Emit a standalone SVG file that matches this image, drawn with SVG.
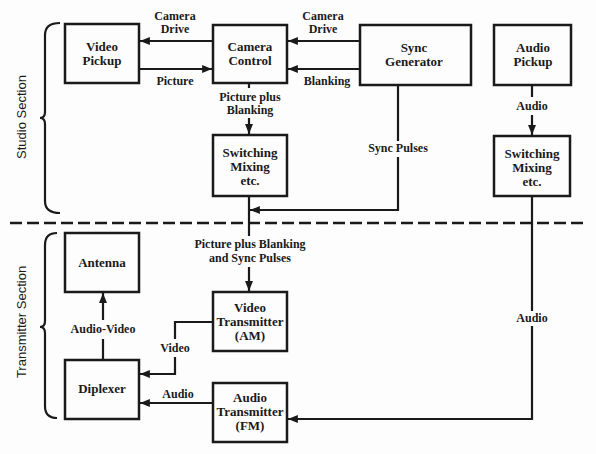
<svg xmlns="http://www.w3.org/2000/svg" width="596" height="454" viewBox="0 0 596 454">
<style>
.box{fill:none;stroke:#1a1a1a;stroke-width:2.5}
.nt{font-family:"Liberation Serif",serif;font-weight:bold;font-size:13px;fill:#1a1a1a;text-anchor:middle}
.lb{font-family:"Liberation Serif",serif;font-weight:bold;font-size:12px;fill:#1a1a1a;text-anchor:middle}
.sec{font-family:"Liberation Sans",sans-serif;font-size:13px;fill:#1a1a1a;text-anchor:middle}
.ln{fill:none;stroke:#1a1a1a;stroke-width:2.2}
.br{fill:none;stroke:#1a1a1a;stroke-width:2.2}
</style>
<defs>
<marker id="ah" viewBox="0 0 10 8" refX="10" refY="4" markerWidth="4.5" markerHeight="3.6" orient="auto" markerUnits="strokeWidth">
<path d="M0,0 L10,4 L0,8 Z" fill="#1a1a1a"/>
</marker>
</defs>
<rect width="596" height="454" fill="#fdfdfd"/>

<g id="sections">
<path class="br" d="M60,23 Q45,23 45,35 L45,112 Q45,118 40,118 Q45,118 45,124 L45,201 Q45,213 60,213"/>
<text class="sec" transform="translate(26,117) rotate(-90)">Studio Section</text>
<path class="br" d="M57,233 Q45,233 45,245 L45,321 Q45,327 40,327 Q45,327 45,333 L45,406 Q45,418 57,418"/>
<text class="sec" transform="translate(26,322) rotate(-90)">Transmitter Section</text>
<line x1="10" y1="223" x2="584" y2="223" stroke="#1a1a1a" stroke-width="2.6" stroke-dasharray="12 5"/>
</g>

<g id="video-pickup">
<rect class="box" x="65" y="24" width="74" height="59"/>
<text class="nt" x="102" y="51">Video</text>
<text class="nt" x="102" y="65">Pickup</text>
</g>
<g id="camera-control">
<rect class="box" x="213" y="25" width="74" height="58"/>
<text class="nt" x="250" y="51">Camera</text>
<text class="nt" x="250" y="65">Control</text>
</g>
<g id="sync-generator">
<rect class="box" x="360" y="25" width="111" height="60"/>
<text class="nt" x="414" y="52">Sync</text>
<text class="nt" x="414" y="66">Generator</text>
</g>
<g id="audio-pickup">
<rect class="box" x="494" y="25" width="77" height="60"/>
<text class="nt" x="533" y="52">Audio</text>
<text class="nt" x="533" y="66">Pickup</text>
</g>
<g id="switching-video">
<rect class="box" x="213" y="135" width="74" height="61"/>
<text class="nt" x="250" y="157">Switching</text>
<text class="nt" x="250" y="171">Mixing</text>
<text class="nt" x="250" y="185">etc.</text>
</g>
<g id="switching-audio">
<rect class="box" x="494" y="136" width="76" height="60"/>
<text class="nt" x="532" y="158">Switching</text>
<text class="nt" x="532" y="172">Mixing</text>
<text class="nt" x="532" y="186">etc.</text>
</g>
<g id="antenna">
<rect class="box" x="65" y="233" width="74" height="59"/>
<text class="nt" x="102" y="267">Antenna</text>
</g>
<g id="video-transmitter">
<rect class="box" x="213" y="292" width="74" height="59"/>
<text class="nt" x="250" y="312">Video</text>
<text class="nt" x="250" y="326">Transmitter</text>
<text class="nt" x="250" y="340">(AM)</text>
</g>
<g id="diplexer">
<rect class="box" x="65" y="360" width="74" height="59"/>
<text class="nt" x="102" y="393">Diplexer</text>
</g>
<g id="audio-transmitter">
<rect class="box" x="213" y="383" width="74" height="59"/>
<text class="nt" x="250" y="402">Audio</text>
<text class="nt" x="250" y="416">Transmitter</text>
<text class="nt" x="250" y="430">(FM)</text>
</g>

<g id="connectors">
<path class="ln" d="M213,41 H140" marker-end="url(#ah)"/>
<path class="ln" d="M139,69 H212" marker-end="url(#ah)"/>
<path class="ln" d="M360,41 H288" marker-end="url(#ah)"/>
<path class="ln" d="M360,69 H288" marker-end="url(#ah)"/>
<path class="ln" d="M249,83 V88"/>
<path class="ln" d="M249,118 V134" marker-end="url(#ah)"/>
<path class="ln" d="M398,85 V141"/>
<path class="ln" d="M398,157 V210 H250" marker-end="url(#ah)"/>
<path class="ln" d="M249,196 V236"/>
<path class="ln" d="M249,267 V291" marker-end="url(#ah)"/>
<path class="ln" d="M532,85 V97"/>
<path class="ln" d="M532,115 V135" marker-end="url(#ah)"/>
<path class="ln" d="M532,196 V311"/>
<path class="ln" d="M532,326 V419 H288" marker-end="url(#ah)"/>
<path class="ln" d="M213,322 H175 V339"/>
<path class="ln" d="M175,357 V374 H140" marker-end="url(#ah)"/>
<path class="ln" d="M213,403 H140" marker-end="url(#ah)"/>
<path class="ln" d="M103,360 V339"/>
<path class="ln" d="M103,320 V293" marker-end="url(#ah)"/>
</g>

<g id="labels">
<text class="lb" x="175" y="20">Camera</text>
<text class="lb" x="175" y="33">Drive</text>
<text class="lb" x="175" y="85">Picture</text>
<text class="lb" x="323" y="20">Camera</text>
<text class="lb" x="323" y="33">Drive</text>
<text class="lb" x="327" y="85">Blanking</text>
<text class="lb" x="250" y="101">Picture plus</text>
<text class="lb" x="250" y="114">Blanking</text>
<text class="lb" x="398" y="152">Sync Pulses</text>
<text class="lb" x="532" y="110">Audio</text>
<text class="lb" x="250" y="248">Picture plus Blanking</text>
<text class="lb" x="250" y="262">and Sync Pulses</text>
<text class="lb" x="532" y="322">Audio</text>
<text class="lb" x="103" y="333">Audio-Video</text>
<text class="lb" x="175" y="352">Video</text>
<text class="lb" x="178" y="398">Audio</text>
</g>
</svg>
